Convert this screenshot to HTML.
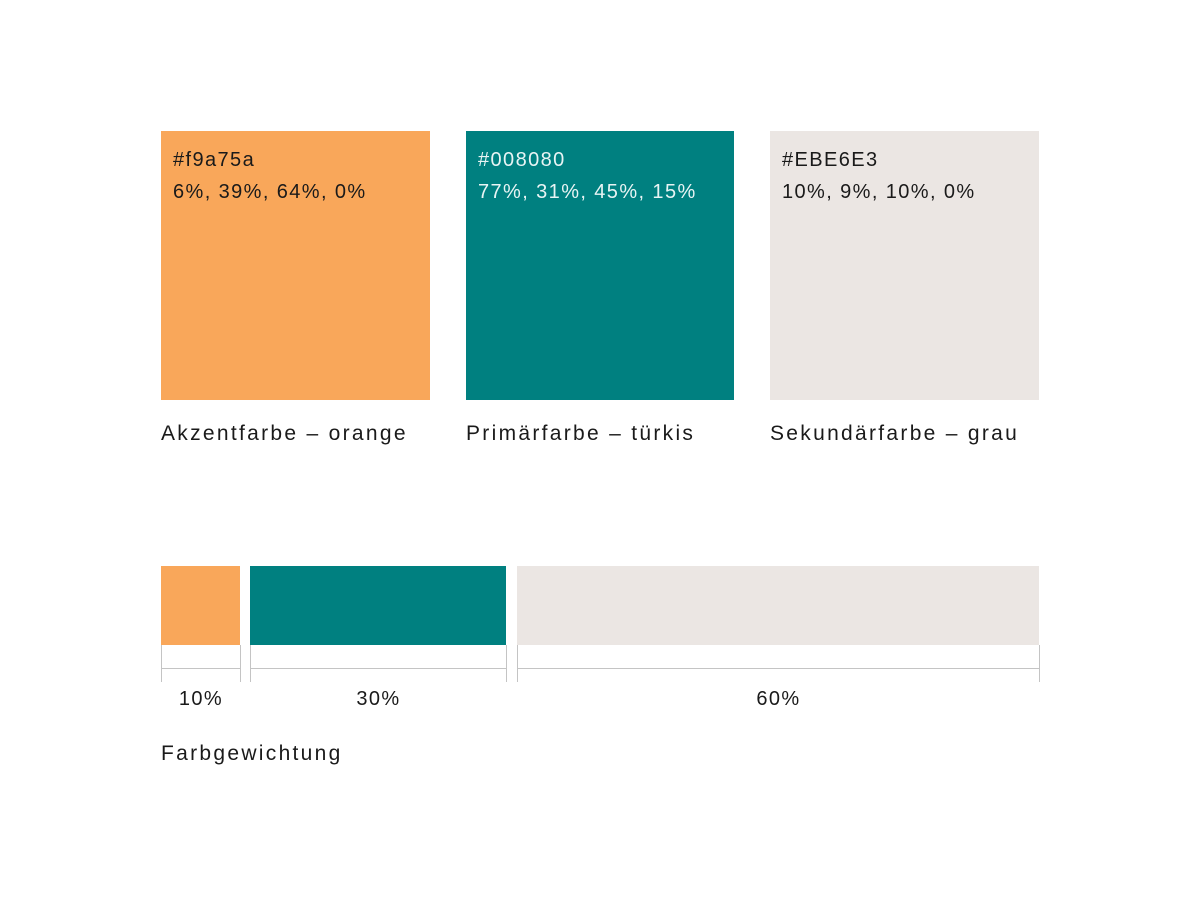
<!DOCTYPE html>
<html><head><style>
body{margin:0;background:#fff;width:1200px;height:900px;position:relative;font-family:"Liberation Sans",sans-serif;color:#1a1a1a;overflow:hidden}
.a{position:absolute}
.t{position:absolute;font-size:20px;white-space:nowrap;line-height:24px;letter-spacing:1.4px}
.b{letter-spacing:2.3px}
.l{position:absolute;background:#c4c4c4}
</style></head><body>
<div class="a" style="left:161px;top:131px;width:269px;height:269px;background:#f9a75a"></div>
<div class="a" style="left:466px;top:131px;width:268px;height:269px;background:#008080"></div>
<div class="a" style="left:770px;top:131px;width:269px;height:269px;background:#ebe6e3"></div>
<div class="t" style="left:173px;top:148px">#f9a75a</div>
<div class="t" style="left:173px;top:180px">6%, 39%, 64%, 0%</div>
<div class="t" style="left:478px;top:148px;color:#e8f4f4">#008080</div>
<div class="t" style="left:478px;top:180px;color:#e8f4f4">77%, 31%, 45%, 15%</div>
<div class="t" style="left:782px;top:148px">#EBE6E3</div>
<div class="t" style="left:782px;top:180px">10%, 9%, 10%, 0%</div>
<div class="t b" style="left:161px;top:422px;font-size:21px">Akzentfarbe – orange</div>
<div class="t b" style="left:466px;top:422px;font-size:21px">Primärfarbe – türkis</div>
<div class="t b" style="left:770px;top:422px;font-size:21px">Sekundärfarbe – grau</div>
<div class="a" style="left:161px;top:566px;width:79px;height:79px;background:#f9a75a"></div>
<div class="a" style="left:250px;top:566px;width:256px;height:79px;background:#008080"></div>
<div class="a" style="left:517px;top:566px;width:522px;height:79px;background:#ebe6e3"></div>
<div class="l" style="left:161px;top:645px;width:1px;height:37px"></div>
<div class="l" style="left:240px;top:645px;width:1px;height:37px"></div>
<div class="l" style="left:250px;top:645px;width:1px;height:37px"></div>
<div class="l" style="left:506px;top:645px;width:1px;height:37px"></div>
<div class="l" style="left:517px;top:645px;width:1px;height:37px"></div>
<div class="l" style="left:1039px;top:645px;width:1px;height:37px"></div>
<div class="l" style="left:161px;top:668px;width:80px;height:1px"></div>
<div class="l" style="left:250px;top:668px;width:257px;height:1px"></div>
<div class="l" style="left:517px;top:668px;width:523px;height:1px"></div>
<div class="t" style="left:161px;width:80px;text-align:center;top:687px">10%</div>
<div class="t" style="left:250px;width:257px;text-align:center;top:687px">30%</div>
<div class="t" style="left:517px;width:523px;text-align:center;top:687px">60%</div>
<div class="t b" style="left:161px;top:742px;font-size:21px">Farbgewichtung</div>
</body></html>
